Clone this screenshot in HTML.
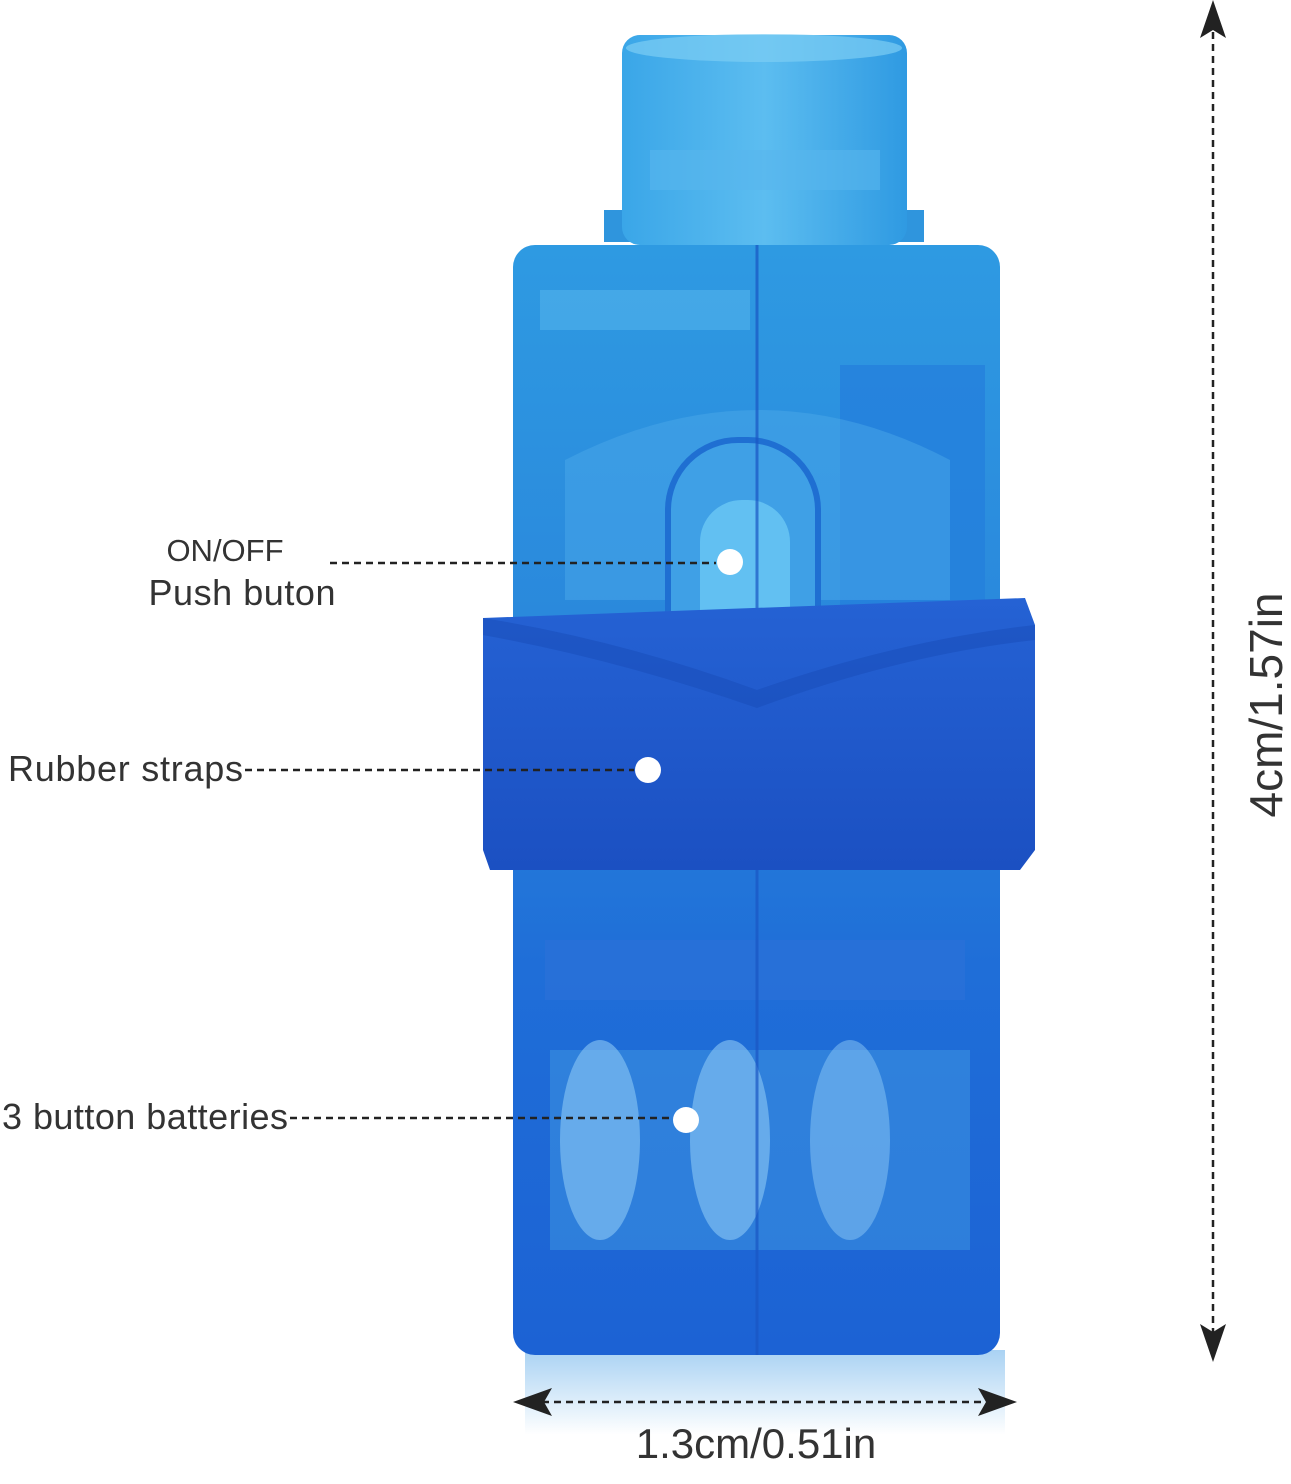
<!DOCTYPE html>
<html><head><meta charset="utf-8"><style>
html,body{margin:0;padding:0;background:#fff;}
svg{display:block}
</style></head><body>
<svg width="1291" height="1484" viewBox="0 0 1291 1484" xmlns="http://www.w3.org/2000/svg">
<defs>
<linearGradient id="body" x1="0" y1="0" x2="0" y2="1">
<stop offset="0" stop-color="#2e9ae2"/>
<stop offset="0.35" stop-color="#2a88dc"/>
<stop offset="0.65" stop-color="#1f6ed8"/>
<stop offset="1" stop-color="#1c62d4"/>
</linearGradient>
<linearGradient id="cap" x1="0" y1="0" x2="1" y2="0">
<stop offset="0" stop-color="#3aa6e8"/>
<stop offset="0.5" stop-color="#5cbdf0"/>
<stop offset="1" stop-color="#2f9ae2"/>
</linearGradient>
<linearGradient id="strap" x1="0" y1="0" x2="0" y2="1">
<stop offset="0" stop-color="#2562d4"/>
<stop offset="1" stop-color="#1b50c2"/>
</linearGradient>
<linearGradient id="shadow" x1="0" y1="0" x2="0" y2="1">
<stop offset="0" stop-color="#a9d2f3"/>
<stop offset="1" stop-color="#ffffff"/>
</linearGradient>
</defs>

<rect x="525" y="1350" width="480" height="85" fill="url(#shadow)"/>

<rect x="604" y="210" width="320" height="32" fill="#2f95dd"/>
<rect x="622" y="35" width="285" height="210" rx="18" fill="url(#cap)"/>
<ellipse cx="764" cy="48" rx="138" ry="14" fill="#7ccdf4" opacity="0.7"/>
<rect x="650" y="150" width="230" height="40" fill="#58b6ec" opacity="0.6"/>

<rect x="513" y="245" width="487" height="1110" rx="22" fill="url(#body)"/>
<rect x="540" y="290" width="210" height="40" fill="#5ab8ee" opacity="0.5"/>
<rect x="840" y="365" width="145" height="240" fill="#2480dc" opacity="0.8"/>
<path d="M565 460 Q760 360 950 460 L950 600 L565 600 Z" fill="#4aa8ea" opacity="0.5"/>
<rect x="668" y="440" width="150" height="250" rx="70" fill="#3fa0e6" stroke="#1f6fd2" stroke-width="6"/>
<rect x="700" y="500" width="90" height="160" rx="42" fill="#62c0f2"/>
<rect x="550" y="1050" width="420" height="200" fill="#3a90e0" opacity="0.6"/>
<ellipse cx="600" cy="1140" rx="40" ry="100" fill="#8cc8f5" opacity="0.6"/>
<ellipse cx="730" cy="1140" rx="40" ry="100" fill="#8cc8f5" opacity="0.6"/>
<ellipse cx="850" cy="1140" rx="40" ry="100" fill="#8cc8f5" opacity="0.5"/>
<rect x="545" y="940" width="420" height="60" fill="#2b70d8" opacity="0.7"/>
<line x1="757" y1="245" x2="757" y2="1355" stroke="#1a56c4" stroke-width="3" opacity="0.7"/>

<path d="M483 618 L1025 598 L1035 625 L1035 850 L1020 870 L490 870 L483 850 Z" fill="url(#strap)"/>
<path d="M483 618 Q620 640 757 690 Q900 640 1035 625 L1035 640 Q900 655 757 708 Q620 660 483 635 Z" fill="#174cb8" opacity="0.5"/>

<g stroke="#222" stroke-width="2.5" stroke-dasharray="7,5" fill="none">
<line x1="330" y1="563" x2="716" y2="563"/>
<line x1="245" y1="770" x2="634" y2="770"/>
<line x1="290" y1="1118" x2="672" y2="1118"/>
<line x1="1213" y1="20" x2="1213" y2="1345"/>
<line x1="530" y1="1402" x2="1000" y2="1402"/>
</g>
<circle cx="730" cy="562" r="13" fill="#fff"/>
<circle cx="648" cy="770" r="13" fill="#fff"/>
<circle cx="686" cy="1120" r="13" fill="#fff"/>
<g fill="#222">
<polygon points="1213,0 1200,38 1213,30 1226,38"/>
<polygon points="1213,1362 1200,1324 1213,1332 1226,1324"/>
<polygon points="513,1402 552,1388 544,1402 552,1416"/>
<polygon points="1017,1402 978,1388 986,1402 978,1416"/>
</g>
<g font-family="Liberation Sans, sans-serif" fill="#333">
<text x="225" y="561" font-size="31" text-anchor="middle">ON/OFF</text>
<text x="242" y="605" font-size="36" text-anchor="middle" textLength="187">Push buton</text>
<text x="8" y="781" font-size="36" textLength="235">Rubber straps</text>
<text x="2" y="1129" font-size="36" textLength="286">3 button batteries</text>
<text x="756" y="1458" font-size="42" text-anchor="middle">1.3cm/0.51in</text>
<text transform="translate(1282,705) rotate(-90)" font-size="46" text-anchor="middle">4cm/1.57in</text>
</g>
</svg>
</body></html>
